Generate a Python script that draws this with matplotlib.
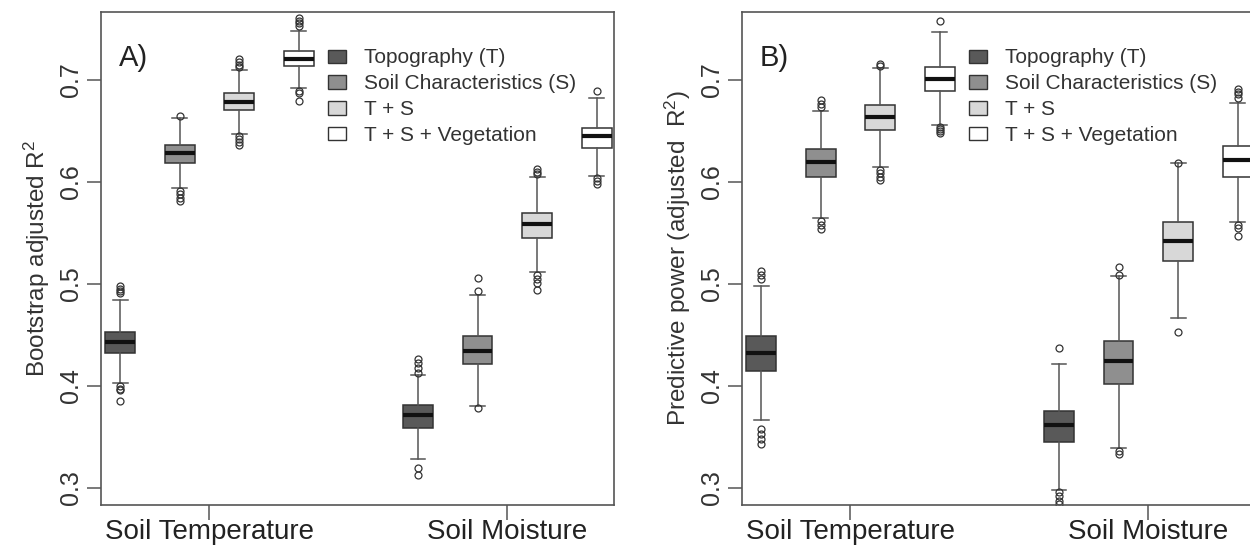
import numpy as np
import matplotlib
matplotlib.use("Agg")
import matplotlib.pyplot as plt
from matplotlib.patches import Patch

plt.rcParams['font.family'] = ['Liberation Sans', 'DejaVu Sans']
plt.rcParams['mathtext.fontset'] = 'custom'
plt.rcParams['mathtext.rm'] = 'Liberation Sans'
plt.rcParams['mathtext.it'] = 'Liberation Sans'

# groups and models
groups = ['Soil Temperature', 'Soil Moisture']
models = ['Topography (T)', 'Soil Characteristics (S)', 'T + S', 'T + S + Vegetation']
model_colors = ['#595959', '#8f8f8f', '#d8d8d8', '#ffffff']

# panel A: bootstrap adjusted R2 (temp x4, moisture x4)
a_med = [0.4434, 0.6283, 0.6787, 0.7206, 0.3714, 0.4345, 0.5587, 0.6448]
a_q1 = [0.4324, 0.6190, 0.6705, 0.7137, 0.3590, 0.4211, 0.5453, 0.6338]
a_q3 = [0.4527, 0.6365, 0.6877, 0.7281, 0.3810, 0.4492, 0.5700, 0.6533]
a_lo = [0.4029, 0.5943, 0.6468, 0.6921, 0.3285, 0.3799, 0.5113, 0.6060]
a_hi = [0.4839, 0.6623, 0.7103, 0.7480, 0.4108, 0.4897, 0.6053, 0.6825]
a_fliers = [
    [0.4976, 0.4955, 0.4930, 0.4907, 0.3995, 0.3975, 0.3960, 0.3850],
    [0.6647, 0.5916, 0.5882, 0.5847, 0.5813],
    [0.7206, 0.7178, 0.7151, 0.7124, 0.6451, 0.6424, 0.6390, 0.6362],
    [0.7607, 0.7583, 0.7556, 0.7528, 0.6897, 0.6870, 0.6794],
    [0.4262, 0.4221, 0.4177, 0.4132, 0.3199, 0.3124],
    [0.5062, 0.4931, 0.3789],
    [0.6129, 0.6101, 0.6074, 0.5086, 0.5051, 0.5010, 0.4942],
    [0.6897, 0.6039, 0.6012, 0.5985],
]

# panel B: predictive power (adjusted R2)
b_med = [0.4321, 0.6194, 0.6636, 0.7014, 0.3617, 0.4242, 0.5419, 0.6218]
b_q1 = [0.4149, 0.6046, 0.6506, 0.6897, 0.3449, 0.4022, 0.5230, 0.6046]
b_q3 = [0.4492, 0.6328, 0.6760, 0.7127, 0.3758, 0.4441, 0.5607, 0.6355]
b_lo = [0.3669, 0.5645, 0.6149, 0.6561, 0.2983, 0.3388, 0.4664, 0.5607]
b_hi = [0.4976, 0.6698, 0.7117, 0.7467, 0.4218, 0.5075, 0.6184, 0.6774]
b_fliers = [
    [0.5127, 0.5086, 0.5051, 0.3583, 0.3525, 0.3480, 0.3432],
    [0.6808, 0.6767, 0.6732, 0.5617, 0.5583, 0.5539],
    [0.7161, 0.7137, 0.6122, 0.6087, 0.6053, 0.6019],
    [0.7583, 0.6540, 0.6520, 0.6500, 0.6479],
    [0.4376, 0.2959, 0.2918, 0.2873, 0.2839],
    [0.5171, 0.5090, 0.3364, 0.3336],
    [0.6190, 0.4530],
    [0.6911, 0.6887, 0.6863, 0.6828, 0.5583, 0.5549, 0.5470],
]

positions = [1, 2, 3, 4, 6, 7, 8, 9]
group_ticks = [2.5, 7.5]
yticks = [0.3, 0.4, 0.5, 0.6, 0.7]


def draw_panel(ax, med, q1, q3, lo, hi, fliers, ylabel, tag):
    stats = []
    for i in range(len(med)):
        stats.append({'med': med[i], 'q1': q1[i], 'q3': q3[i],
                      'whislo': lo[i], 'whishi': hi[i], 'fliers': fliers[i]})
    bp = ax.bxp(stats, positions=positions, widths=0.5, capwidths=0.25,
                patch_artist=True, showfliers=True,
                boxprops=dict(edgecolor='#333333', linewidth=1.1),
                medianprops=dict(color='#111111', linewidth=3.0, solid_capstyle='butt'),
                whiskerprops=dict(color='#555555', linewidth=1.1),
                capprops=dict(color='#555555', linewidth=1.1),
                flierprops=dict(marker='o', markersize=5, markerfacecolor='none',
                                markeredgecolor='#333333', markeredgewidth=0.9))
    for i, box in enumerate(bp['boxes']):
        box.set_facecolor(model_colors[i % 4])

    ax.set_xlim(0.68, 9.29)
    ax.set_ylim(0.2833, 0.7667)
    ax.set_xticks(group_ticks)
    ax.set_xticklabels(groups, fontsize=20, color='#222222')
    ax.set_yticks(yticks)
    ax.set_yticklabels(['%.1f' % v for v in yticks], fontsize=18, color='#333333',
                       rotation=90, va='center')
    ax.tick_params(axis='x', length=11, width=1.1, color='#555555', pad=-1)
    ax.tick_params(axis='y', length=10, width=1.1, color='#555555', pad=3)
    for s in ax.spines.values():
        s.set_color('#555555')
        s.set_linewidth(1.2)
    ax.set_ylabel(ylabel, fontsize=17.5, color='#333333', labelpad=5)
    ax.text(0.035, 0.935, tag, transform=ax.transAxes, fontsize=21, color='#222222',
            ha='left', va='top')
    handles = [Patch(facecolor=c, edgecolor='#333333', linewidth=1.0) for c in model_colors]
    ax.legend(handles, models, loc='upper left', bbox_to_anchor=(0.443, 0.926),
              frameon=False, fontsize=15, handlelength=0.85, handleheight=0.6,
              handletextpad=0.85, labelspacing=0.33, borderpad=0, borderaxespad=0,
              labelcolor='#333333')


fig = plt.figure(figsize=(12.5, 5.46), dpi=100)
ax_a = fig.add_axes([101 / 1250, 1 - 505 / 546, 513 / 1250, 493 / 546])
ax_b = fig.add_axes([742 / 1250, 1 - 505 / 546, 513 / 1250, 493 / 546])

draw_panel(ax_a, a_med, a_q1, a_q3, a_lo, a_hi, a_fliers,
           'Bootstrap adjusted R$^2$', 'A)')
draw_panel(ax_b, b_med, b_q1, b_q3, b_lo, b_hi, b_fliers,
           'Predictive power (adjusted  R$^2$)', 'B)')

fig.savefig('out.png', dpi=100)
